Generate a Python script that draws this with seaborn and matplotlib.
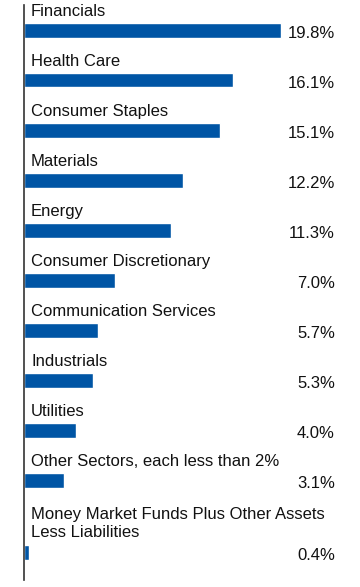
import matplotlib
matplotlib.use("Agg")
import matplotlib.pyplot as plt
import seaborn as sns
import pandas as pd

sectors = [
    "Financials",
    "Health Care",
    "Consumer Staples",
    "Materials",
    "Energy",
    "Consumer Discretionary",
    "Communication Services",
    "Industrials",
    "Utilities",
    "Other Sectors, each less than 2%",
    "Money Market Funds Plus Other Assets\nLess Liabilities",
]
weights = [19.8, 16.1, 15.1, 12.2, 11.3, 7.0, 5.7, 5.3, 4.0, 3.1, 0.4]

# bar positions: one unit per row, extra room for two-line labels
pos = []
y = 0.5
for i, s in enumerate(sectors):
    if i > 0:
        y += 1 + 0.44 * s.count("\n")
    pos.append(y)

df = pd.DataFrame({"sector": sectors, "weight": weights, "pos": pos})

sns.set_style("white")
plt.rcParams["font.family"] = ["Liberation Sans", "DejaVu Sans"]

fig = plt.figure(figsize=(3.6, 5.87), dpi=100)
ax = fig.add_axes([24 / 360, 7 / 587, 1 - 24 / 360, 575 / 587])

sns.barplot(data=df, x="weight", y="pos", orient="h", native_scale=True,
            width=0.3, color="#0055a5", saturation=1, ax=ax)

for _, r in df.iterrows():
    nlines = r.sector.count("\n") + 1
    ax.text(0.54, r.pos - 0.37 - 0.2 * (nlines - 1), r.sector, ha="left", va="center",
            fontsize=12, linespacing=1.2, color="#111111")
    ax.text(23.92, r.pos + 0.06, f"{r.weight:.1f}%", ha="right", va="center",
            fontsize=12, color="#111111")

ax.set_xlim(0, 336 / 13)
ax.set_ylim(11.5, 0)
for s in ["top", "right", "bottom"]:
    ax.spines[s].set_visible(False)
ax.spines["left"].set_color("#333333")
ax.spines["left"].set_linewidth(1.2)
ax.set_xticks([])
ax.set_yticks([])
ax.set_xlabel("")
ax.set_ylabel("")

fig.savefig("out.png", dpi=100)
